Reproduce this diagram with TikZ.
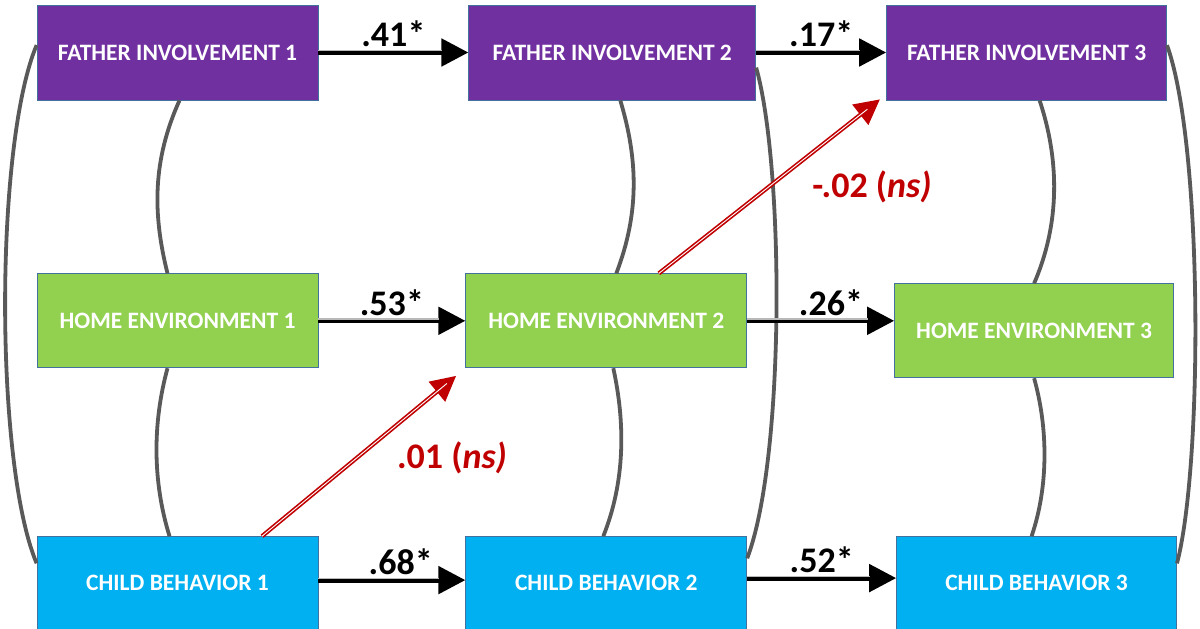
\documentclass[tikz,border=0pt]{standalone}
\usepackage{fontspec}
\setmainfont{Carlito}
\usepackage{tikz}
\usetikzlibrary{arrows.meta, positioning, calc}
\definecolor{fipurple}{HTML}{7030A0}
\definecolor{hegreen}{HTML}{92D050}
\definecolor{cbblue}{HTML}{00B0F0}
\definecolor{boxedge}{HTML}{41719C}
\definecolor{covgray}{HTML}{595959}
\definecolor{nsred}{HTML}{C00000}

\begin{document}
\begin{tikzpicture}[x=1pt, y=-1pt,
  box/.style={rectangle, draw=boxedge, line width=0.8pt, text=white, align=center, minimum width=281pt, inner sep=0pt, font=\bfseries\fontsize{23.5}{28}\selectfont},
  fi/.style={box, fill=fipurple, minimum height=95pt},
  he/.style={box, fill=hegreen, minimum height=94pt},
  cb/.style={box, fill=cbblue, minimum height=93pt},
  cov/.style={draw=covgray, line width=3.8pt},
  reg/.style={->, line width=5pt, postaction={draw=gray!55, line width=1.3pt, -, shorten >=26pt, transform canvas={yshift=1.8pt}}},
  rreg/.style={-{Triangle[length=25pt,width=25pt]}, draw=nsred, line width=4.2pt, postaction={draw=white, line width=0.9pt, -, shorten >=24pt}},
  coef/.style={inner sep=0pt, font=\bfseries\fontsize{36}{42}\selectfont},
  rcoef/.style={coef, text=nsred},
  >={Triangle[length=27pt,width=27pt]}]
\useasboundingbox (0,0) rectangle (1200,629);

\node[fi] (fi1) at (177.5,52.5) {FATHER INVOLVEMENT 1};
\node[he, below=173pt of fi1] (he1) {HOME ENVIRONMENT 1};
\node[cb, below=168pt of he1] (cb1) {CHILD BEHAVIOR 1};
\node[fi, right=150pt of fi1, minimum width=287pt] (fi2) {FATHER INVOLVEMENT 2};
\node[he, right=147pt of he1] (he2) {HOME ENVIRONMENT 2};
\node[cb, right=147pt of cb1] (cb2) {CHILD BEHAVIOR 2};
\node[fi, right=130pt of fi2, minimum width=280pt] (fi3) {FATHER INVOLVEMENT 3};
\node[he, right=147pt of he2, minimum width=279pt, yshift=-10pt] (he3) {HOME ENVIRONMENT 3};
\node[cb, right=149pt of cb2, minimum width=280pt] (cb3) {CHILD BEHAVIOR 3};

\draw[cov] (fi1.177) .. controls +(-42,100) and +(-42,-100) .. (cb1.172);
\draw[cov] (fi2.-6) .. controls +(28,100) and +(38,-100) .. (cb2.10);
\draw[cov] (fi3.3) .. controls +(36,100) and +(26,-100) .. (cb3.8);
\draw[cov] ([xshift=2pt]fi1.south) .. controls +(-27,60) and +(-15,-60) .. ([xshift=-10pt]he1.north);
\draw[cov] ([xshift=-10pt]he1.south) .. controls +(-15,55) and +(-17,-55) .. ([xshift=-8pt]cb1.north);
\draw[cov] ([xshift=8pt]fi2.south) .. controls +(18,60) and +(23,-60) .. ([xshift=10pt]he2.north);
\draw[cov] ([xshift=7pt]he2.south) .. controls +(12,55) and +(22,-55) .. ([xshift=-3pt]cb2.north);
\draw[cov] ([xshift=13pt]fi3.south) .. controls +(20,60) and +(26,-60) .. (he3.north);
\draw[cov] (he3.south) .. controls +(14,50) and +(17,-50) .. ([xshift=-5pt]cb3.north);

\draw[reg] (fi1) -- node[coef, above=3pt] {.41*} (fi2);
\draw[reg] (fi2) -- node[coef, above=3pt] {.17*} (fi3);
\draw[reg] (he1) -- node[coef, above=3pt] {.53*} (he2);
\draw[reg] (he2.east) -- node[coef, above=3pt, pos=.57] {.26*} (he2.east -| he3.west);
\draw[reg] ([yshift=3pt]cb1.east) -- node[coef, above=3pt, pos=.56] {.68*} ([yshift=3pt]cb2.west);
\draw[reg] ([yshift=5pt]cb2.east) -- node[coef, above=3pt] {.52*} ([yshift=5pt]cb2.east -| cb3.west);

\draw[rreg, shorten >=12pt] ([xshift=84.5pt]cb1.north) -- (he2.south west);
\draw[rreg, shorten >=8pt] ([xshift=52.5pt]he2.north) -- ([yshift=6pt]fi3.south west);
\node[rcoef, anchor=base] (ns1) at (452,468) {.01 (\textit{ns)}};
\node[rcoef, anchor=base] (ns2) at (872,197) {-.02 (\textit{ns)}};
\end{tikzpicture}
\end{document}
